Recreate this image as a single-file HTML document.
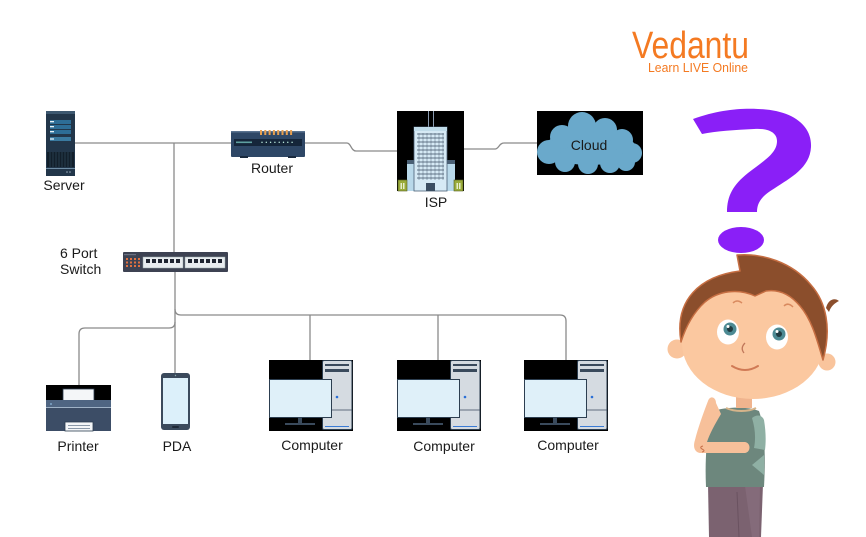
<!DOCTYPE html>
<html><head><meta charset="utf-8"><style>
html,body{margin:0;padding:0;background:#fff;}
svg{display:block;}
text{font-family:"Liberation Sans",sans-serif;}
</style></head><body>
<svg width="866" height="537" viewBox="0 0 866 537" xmlns="http://www.w3.org/2000/svg">
<rect width="866" height="537" fill="#fff"/>

<!-- connectors -->
<g fill="none" stroke="#8a8a8a" stroke-width="1.3">
<path d="M75,143 H231"/>
<path d="M305,143 H347 C351,143 351,151 356,151 H397"/>
<path d="M464,149 H495 C499,149 499,143 504,143 H537"/>
<path d="M174,143 V252"/>
<path d="M175,272 V373"/>
<path d="M175,309 Q175,315 181,315 H560 Q566,315 566,321 V360"/>
<path d="M175,322 Q175,328 169,328 H85 Q79,328 79,334 V385"/>
<path d="M310,315 V360"/>
<path d="M438,315 V360"/>
</g>

<!-- Server -->
<g>
<rect x="46" y="111" width="29" height="65" fill="#22364a"/>
<rect x="46" y="111" width="29" height="3" fill="#3d5870"/>
<rect x="50" y="120" width="21" height="4" fill="#2d6d96"/>
<rect x="50" y="125" width="21" height="4" fill="#2d6d96"/>
<rect x="50" y="130" width="21" height="4" fill="#2d6d96"/>
<rect x="50" y="137" width="21" height="4" fill="#3a7aa0"/>
<rect x="50" y="121" width="4" height="1.3" fill="#e8f2f8"/>
<rect x="50" y="126" width="4" height="1.3" fill="#e8f2f8"/>
<rect x="50" y="131" width="4" height="1.3" fill="#e8f2f8"/>
<rect x="50" y="138" width="4" height="2" fill="#a8c8dc"/>
<rect x="47" y="152" width="27" height="15" fill="#121f2b"/>
<g stroke="#2e4458" stroke-width="0.8">
<path d="M50,152V167M53,152V167M56,152V167M59,152V167M62,152V167M65,152V167M68,152V167M71,152V167"/>
</g>
<rect x="46" y="168" width="29" height="1" fill="#6d8ca4"/>
<circle cx="67" cy="172" r="0.8" fill="#9ab"/>
<circle cx="70" cy="172" r="0.8" fill="#9ab"/>
</g>
<text x="64" y="190" font-size="14" text-anchor="middle" fill="#1a1a1a">Server</text>

<!-- Router -->
<g>
<rect x="231" y="131" width="74" height="26" fill="#2e4766" rx="1"/>
<rect x="231" y="131" width="74" height="1.5" fill="#5a7390"/>
<g fill="#e8a050">
<rect x="260" y="130" width="2" height="5"/><rect x="264.3" y="130" width="2" height="5"/><rect x="268.6" y="130" width="2" height="5"/><rect x="272.9" y="130" width="2" height="5"/><rect x="277.2" y="130" width="2" height="5"/><rect x="281.5" y="130" width="2" height="5"/><rect x="285.8" y="130" width="2" height="5"/><rect x="290.1" y="130" width="2" height="5"/>
</g>
<rect x="234" y="139" width="68" height="7" fill="#15263a"/>
<rect x="236" y="141.5" width="16" height="1.6" fill="#5fa0a0"/>
<g fill="#cfe">
<circle cx="262" cy="142.3" r="0.7"/><circle cx="266.3" cy="142.3" r="0.7"/><circle cx="270.6" cy="142.3" r="0.7"/><circle cx="274.9" cy="142.3" r="0.7"/><circle cx="279.2" cy="142.3" r="0.7"/><circle cx="283.5" cy="142.3" r="0.7"/><circle cx="287.8" cy="142.3" r="0.7"/><circle cx="292.1" cy="142.3" r="0.7"/>
</g>
<rect x="240" y="156" width="8" height="2" fill="#1a2a3e"/>
<rect x="288" y="156" width="8" height="2" fill="#1a2a3e"/>
</g>
<text x="272" y="173" font-size="14" text-anchor="middle" fill="#1a1a1a">Router</text>

<!-- ISP building -->
<g>
<rect x="397" y="111" width="67" height="80" fill="#000"/>
<line x1="428.5" y1="111" x2="428.5" y2="127" stroke="#8a9bb0" stroke-width="1"/>
<line x1="433.5" y1="111" x2="433.5" y2="127" stroke="#8a9bb0" stroke-width="1"/>
<rect x="407" y="162" width="8" height="29" fill="#b9d9ea"/>
<rect x="407" y="160" width="8" height="4" fill="#4a6075"/>
<rect x="447" y="162" width="8" height="29" fill="#b9d9ea"/>
<rect x="447" y="160" width="8" height="4" fill="#4a6075"/>
<rect x="414" y="127" width="33" height="64" fill="#d6eaf5" stroke="#4a6075" stroke-width="0.8"/>
<rect x="414" y="127" width="33" height="4" fill="#c0dcea"/>
<g stroke="#3b4e62" stroke-width="0.8">
<path d="M417,134H444M417,138H444M417,142H444M417,146H444M417,150H444M417,154H444M417,158H444M417,162H444M417,166H444M417,170H444M417,174H444M417,178H444"/>
<path d="M419,133V180M423,133V180M427,133V180M431,133V180M435,133V180M439,133V180M443,133V180" stroke-opacity="0.5"/>
</g>
<rect x="426" y="183" width="9" height="8" fill="#3b4e62"/>
<rect x="398" y="180" width="9" height="11" fill="#9aab3a" stroke="#556020" stroke-width="0.6"/>
<rect x="400.5" y="183" width="1.5" height="6" fill="#e6eecc"/><rect x="403" y="183" width="1.5" height="6" fill="#e6eecc"/>
<rect x="454" y="180" width="9" height="11" fill="#9aab3a" stroke="#556020" stroke-width="0.6"/>
<rect x="456.5" y="183" width="1.5" height="6" fill="#e6eecc"/><rect x="459" y="183" width="1.5" height="6" fill="#e6eecc"/>
</g>
<text x="436" y="207" font-size="14" text-anchor="middle" fill="#1a1a1a">ISP</text>

<!-- Cloud -->
<g>
<rect x="537" y="111" width="106" height="64" fill="#000"/>
<g fill="#6aa9cb">
<ellipse cx="590" cy="148" rx="46" ry="17"/>
<circle cx="582" cy="126" r="14"/>
<circle cx="562" cy="137" r="12"/>
<circle cx="605" cy="130" r="12"/>
<circle cx="622" cy="140" r="11"/>
<circle cx="632" cy="153" r="10"/>
<circle cx="549" cy="152" r="12"/>
<circle cx="565" cy="162" r="10"/>
<circle cx="588" cy="164" r="10"/>
<circle cx="610" cy="163" r="10"/>
<circle cx="626" cy="162" r="9"/>
</g>
<text x="589" y="150" font-size="14" text-anchor="middle" fill="#1a1a1a">Cloud</text>
</g>

<!-- Switch -->
<g>
<rect x="123" y="252" width="105" height="20" fill="#3d4252" rx="1"/>
<rect x="124" y="254" width="12" height="1.2" fill="#6a7080"/>
<g fill="#e07040">
<rect x="126" y="258" width="2" height="2"/><rect x="130" y="258" width="2" height="2"/><rect x="134" y="258" width="2" height="2"/><rect x="138" y="258" width="2" height="2"/>
<rect x="126" y="261.5" width="2" height="2"/><rect x="130" y="261.5" width="2" height="2"/><rect x="134" y="261.5" width="2" height="2"/><rect x="138" y="261.5" width="2" height="2"/>
<rect x="126" y="265" width="2" height="2"/><rect x="130" y="265" width="2" height="2"/><rect x="134" y="265" width="2" height="2"/><rect x="138" y="265" width="2" height="2"/>
</g>
<rect x="143" y="257" width="40" height="11" fill="#e8ecef" stroke="#9aa" stroke-width="0.5"/>
<rect x="185" y="257" width="40" height="11" fill="#e8ecef" stroke="#9aa" stroke-width="0.5"/>
<g fill="#1e2430">
<rect x="146" y="259" width="4" height="4"/><rect x="152" y="259" width="4" height="4"/><rect x="158" y="259" width="4" height="4"/><rect x="164" y="259" width="4" height="4"/><rect x="170" y="259" width="4" height="4"/><rect x="176" y="259" width="4" height="4"/>
<rect x="188" y="259" width="4" height="4"/><rect x="194" y="259" width="4" height="4"/><rect x="200" y="259" width="4" height="4"/><rect x="206" y="259" width="4" height="4"/><rect x="212" y="259" width="4" height="4"/><rect x="218" y="259" width="4" height="4"/>
</g>
</g>
<text x="60" y="258" font-size="14" fill="#1a1a1a">6 Port</text>
<text x="60" y="274" font-size="14" fill="#1a1a1a">Switch</text>

<!-- Printer -->
<g transform="translate(46,385)">
<rect width="65" height="46" fill="#000"/>
<rect x="17" y="4" width="31" height="12" fill="#f4f6f8" stroke="#2c3e50" stroke-width="0.8"/>
<rect x="0" y="15" width="65" height="8" fill="#4f6582"/>
<rect x="0" y="22" width="65" height="1" fill="#9fb2c6"/>
<rect x="0" y="23" width="65" height="23" fill="#3c4d66"/>
<circle cx="5" cy="19" r="1" fill="#7fa6c8"/>
<rect x="19" y="37" width="28" height="9" fill="#f4f6f8" stroke="#2c3e50" stroke-width="0.8"/>
<rect x="22" y="40" width="22" height="1" fill="#8a98a8"/>
<rect x="22" y="43" width="22" height="1" fill="#8a98a8"/>
</g>
<text x="78" y="451" font-size="14" text-anchor="middle" fill="#1a1a1a">Printer</text>

<!-- PDA -->
<g>
<rect x="161" y="373" width="29" height="57" rx="3" fill="#3b4a5c"/>
<rect x="163" y="378" width="25" height="46" fill="#dcf0fa"/>
<rect x="172" y="426" width="7" height="2" rx="1" fill="#1e2836"/>
<circle cx="175.5" cy="375.5" r="0.7" fill="#8aa"/>
</g>
<text x="177" y="451" font-size="14" text-anchor="middle" fill="#1a1a1a">PDA</text>

<!-- Computers -->
<defs>
<g id="pc">
<rect width="84" height="71" fill="#000"/>
<rect x="53.5" y="0.5" width="29.5" height="69" rx="1.5" fill="#d5dbe1" stroke="#2c3e50" stroke-width="1"/>
<rect x="56" y="4" width="24" height="2" fill="#3a4a5c"/>
<rect x="56" y="9" width="24" height="3" fill="#3a4a5c"/>
<line x1="53.5" y1="50" x2="83" y2="50" stroke="#3a4a5c" stroke-width="0.8"/>
<circle cx="68" cy="37" r="1.3" fill="#2a6fd6"/>
<line x1="56" y1="66.5" x2="80" y2="66.5" stroke="#3a7bd5" stroke-width="1"/>
<rect x="0.5" y="19.5" width="62" height="38" fill="#dff0f9" stroke="#2c3e50" stroke-width="1"/>
<rect x="29" y="57.5" width="4" height="6" fill="#3a4a5c"/>
<rect x="16" y="63" width="30" height="2" fill="#3a4a5c"/>
</g>
</defs>
<use href="#pc" x="269" y="360"/>
<use href="#pc" x="397" y="360"/>
<use href="#pc" x="524" y="360"/>
<text x="312" y="450" font-size="14" text-anchor="middle" fill="#1a1a1a">Computer</text>
<text x="444" y="451" font-size="14" text-anchor="middle" fill="#1a1a1a">Computer</text>
<text x="568" y="450" font-size="14" text-anchor="middle" fill="#1a1a1a">Computer</text>

<!-- Vedantu logo -->
<text x="632" y="58" font-size="38" fill="#f47a22" textLength="117" lengthAdjust="spacingAndGlyphs">Vedantu</text>
<text x="648" y="72" font-size="12.5" fill="#f47a22" textLength="100" lengthAdjust="spacingAndGlyphs">Learn LIVE Online</text>

<!-- Question mark -->
<g fill="#8a1ff7">
<path d="M693,119 C718,110 740,108 758,109 C792,110 812,125 811,147 C810,168 790,178 775,188 C762,196 757,202 757,212 L727,212 C727,196 733,185 748,173 C765,160 777,153 777,141 C777,132 767,128 754,129 C735,130 716,131 702,134 Z"/>
<ellipse cx="741" cy="240" rx="23" ry="13"/>
</g>

<!-- Boy -->
<g>
<!-- pants -->
<path d="M708,484 L763,484 L761,537 L709,537 Z" fill="#7b6270"/>
<path d="M737,492 L739,537" stroke="#6a5260" stroke-width="1" fill="none"/>
<path d="M745,486 L760,486 L759,537 L752,537 Z" fill="#8a7280" opacity="0.6"/>
<!-- shirt -->
<path d="M713,411 C725,407 748,406 759,411 C764,425 766,450 764,487 L706,487 C705,465 706,445 709,425 Z" fill="#6d877d"/>
<path d="M752,418 C757,414 762,415 764,420 C766,432 766,442 765,450 L754,448 C756,438 755,428 752,418 Z" fill="#8fb0a4"/>
<path d="M752,465 L764,455 L764,475 Z" fill="#8fb0a4"/>
<!-- neck -->
<rect x="736" y="394" width="16" height="14" fill="#f0b48e"/>
<path d="M726,408 C735,412 748,412 756,408" stroke="#d6b48a" stroke-width="2" fill="none"/>
<!-- arm -->
<path d="M708,401 C710,395 716,397 716,403 L721,414 C715,424 709,435 707,442 L745,442 C751,443 751,452 745,453 L700,453 C694,452 693,446 695,440 C698,428 703,414 708,401 Z" fill="#f7c09a"/>
<path d="M703,446 Q699,447 702,449 Q706,451 702,452" stroke="#c8704a" stroke-width="1" fill="none"/>
<!-- ears -->
<circle cx="677" cy="349" r="9.5" fill="#f9c49c"/>
<circle cx="827" cy="362" r="8.5" fill="#f9c49c"/>
<!-- face -->
<ellipse cx="753" cy="343" rx="71" ry="56" fill="#fbc8a0"/>
<!-- hair -->
<path d="M681,342 C674,300 700,276 740,271 L737,255 C762,253 792,262 811,285 C826,302 832,328 823,360 C817,340 812,320 800,306 C790,294 779,289 766,291 L755,296 C738,288 718,291 705,302 C694,312 686,326 681,342 Z" fill="#8b4e2c" stroke="#c66e42" stroke-width="1.5" stroke-linejoin="round"/>
<path d="M826,308 C828,300 834,297 839,301 C835,303 831,306 829,312 Z" fill="#8b4e2c"/>
<!-- eyebrows -->
<path d="M733,303 Q737,299 742,303" stroke="#d98a5f" stroke-width="1.5" fill="none"/>
<path d="M784,306 Q788,302 793,307" stroke="#d98a5f" stroke-width="1.5" fill="none"/>
<!-- eyes -->
<ellipse cx="728" cy="332" rx="11" ry="12.5" fill="#fff"/>
<circle cx="730" cy="329" r="6.5" fill="#4d8a93"/>
<circle cx="730" cy="329" r="3" fill="#1f3a40"/>
<circle cx="728" cy="326.5" r="1.5" fill="#fff"/>
<ellipse cx="777" cy="337" rx="11" ry="12.5" fill="#fff"/>
<circle cx="779" cy="334" r="6.5" fill="#4d8a93"/>
<circle cx="779" cy="334" r="3" fill="#1f3a40"/>
<circle cx="777" cy="331.5" r="1.5" fill="#fff"/>
<!-- nose & mouth -->
<path d="M745,343 Q740,348 744,353" stroke="#c0775a" stroke-width="1.3" fill="none"/>
<path d="M732,366 Q745,374 758,366" stroke="#d07a55" stroke-width="2" fill="none" stroke-linecap="round"/>
</g>
</svg>
</body></html>
